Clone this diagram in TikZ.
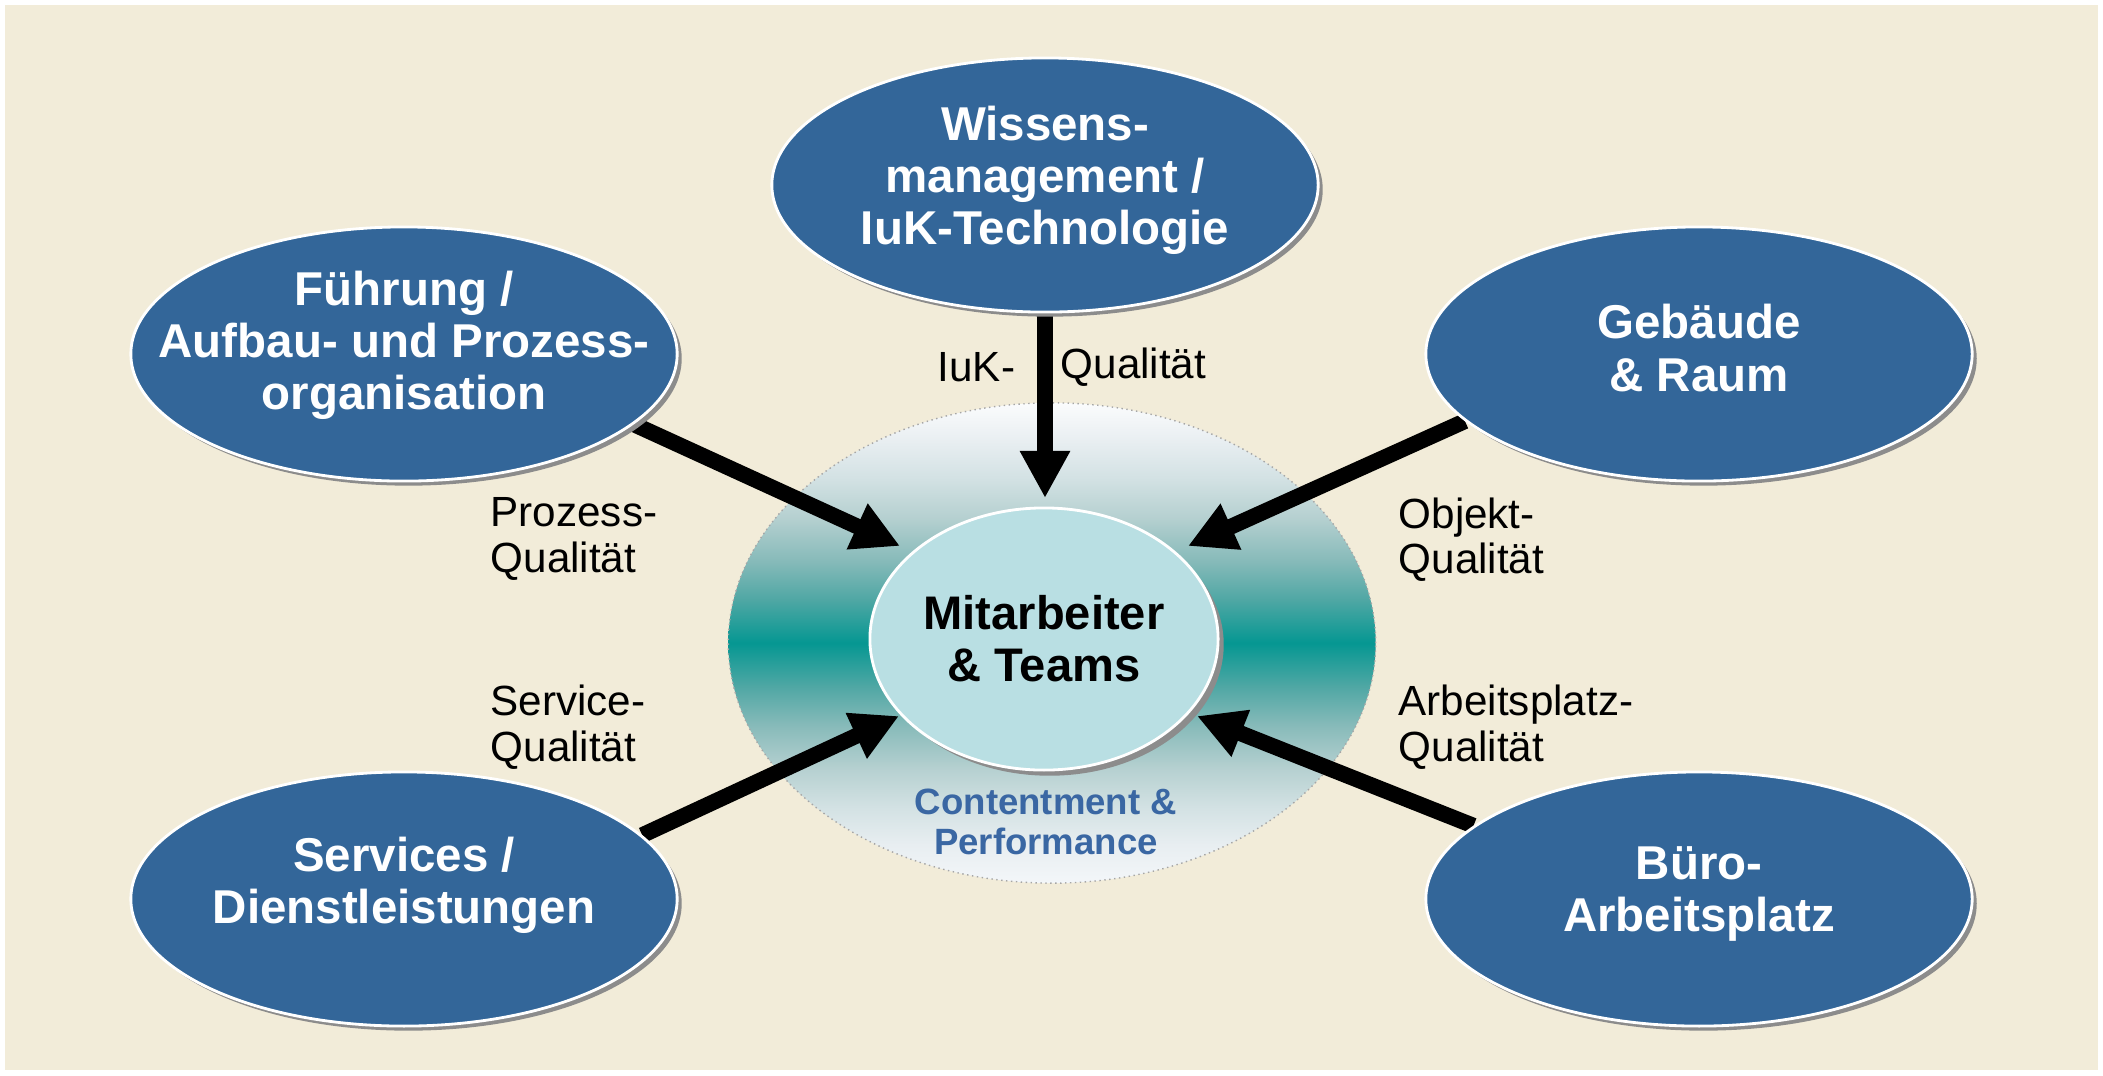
\documentclass[tikz,border=0pt]{standalone}
\usepackage{fontspec}
\setmainfont{Liberation Sans}
\usetikzlibrary{arrows.meta,shapes.geometric,shadows}
\definecolor{bgbeige}{HTML}{F2ECD9}
\definecolor{nodeblue}{HTML}{336699}
\definecolor{innercyan}{HTML}{B9DFE3}
\definecolor{perfblue}{HTML}{3A67A3}
\definecolor{sA}{HTML}{F3F6F9}
\definecolor{sB}{HTML}{E8EEF1}
\definecolor{sC}{HTML}{D2E1E3}
\definecolor{sD}{HTML}{B5D0D0}
\definecolor{sE}{HTML}{86BAB9}
\definecolor{sF}{HTML}{4FA7A4}
\definecolor{sG}{HTML}{059792}
\definecolor{sH}{HTML}{FBFCFD}
\pgfdeclareverticalshading{tealband}{100bp}{color(0bp)=(sA); color(25bp)=(sA); color(29bp)=(sB); color(33bp)=(sC); color(37bp)=(sD); color(41.5bp)=(sE); color(45.5bp)=(sF); color(50bp)=(sG); color(54.5bp)=(sF); color(58.5bp)=(sE); color(63bp)=(sD); color(67bp)=(sC); color(71bp)=(sB); color(75bp)=(sH); color(100bp)=(sH)}
\pgfdeclarelayer{back}
\pgfdeclarelayer{mid}
\pgfsetlayers{back,mid,main}
\begin{document}
\begin{tikzpicture}[x=0.01cm,y=-0.01cm,
  blob/.style={ellipse, fill=nodeblue, draw=white, line width=0.8pt,
    minimum width=5.46cm, minimum height=2.54cm, inner sep=0pt,
    drop shadow={shadow xshift=1.3pt, shadow yshift=-1.3pt, fill=black!45, opacity=1}},
  blobtext/.style={text=white, font=\fontsize{13.5pt}{14.8pt}\selectfont\bfseries, align=center, inner sep=0pt},
  lbl/.style={font=\fontsize{12pt}{12.9pt}\selectfont, align=left, anchor=west, inner sep=0pt},
  bigarrow/.style={line width=4.5pt, -{Triangle[length=13.4pt,width=13.4pt]}},
  halo/.style={ellipse, shade, shading=tealband, draw=gray!70, densely dotted, line width=0.4pt,
    minimum width=6.47cm, minimum height=4.8cm, inner sep=0pt},
  corestyle/.style={ellipse, fill=innercyan, draw=white, line width=0.8pt,
    minimum width=3.48cm, minimum height=2.62cm, inner sep=0pt, align=center,
    font=\fontsize{13.4pt}{14.8pt}\selectfont\bfseries,
    drop shadow={shadow xshift=1.6pt, shadow yshift=-1.6pt, fill=black!45, opacity=1}},
  perfstyle/.style={text=perfblue, font=\fontsize{10.4pt}{11.4pt}\selectfont\bfseries, align=center, inner sep=0pt}
]
\useasboundingbox (0,0) rectangle (2103,1075);

% outer topic ellipses
\node[blob] (wiss) at (1045,185) {};
\node[blob] (fuehr) at (404,354) {};
\node[blob] (geb) at (1699,354) {};
\node[blob] (serv) at (404,899) {};
\node[blob] (buero) at (1699,899) {};

\node[blobtext] (wissT) at (1045,180) {Wissens-\\management /\\IuK-Technologie};
\node[blobtext] (fuehrT) at (404,345) {Führung /\\Aufbau- und Prozess-\\organisation};
\node[blobtext] (gebT) at (1699,348) {Gebäude\\\& Raum};
\node[blobtext] (servT) at (404,885) {Services /\\Dienstleistungen};
\node[blobtext] (bueroT) at (1699,894) {Büro-\\Arbeitsplatz};

% quality labels
\node[lbl] (lIuK) at (937,367) {IuK-};
\node[lbl] (lIuKq) at (1060,367) {Qualität};
\node[lbl] (lProz) at (490,539) {Prozess-\\Qualität};
\node[lbl] (lServ) at (490,727) {Service-\\Qualität};
\node[lbl] (lObj) at (1398,540) {Objekt-\\Qualität};
\node[lbl] (lArb) at (1398,727) {Arbeitsplatz-\\Qualität};

\begin{pgfonlayer}{back}
  \fill[white] (0,0) rectangle (2103,1075);
  \fill[bgbeige] (5,5) rectangle (2098,1070);
  \node[halo] (halo) at (1052,643) {};
  \node[corestyle] (core) at (1044,639) {Mitarbeiter\\\& Teams};
  \node[perfstyle] (perf) at (1046,822) {Contentment \&\\Performance};
\end{pgfonlayer}

\begin{pgfonlayer}{mid}
  \coordinate (tW) at (1045,498);
  \coordinate (tF) at (900,546);
  \coordinate (tG) at (1188,546);
  \coordinate (tS) at (899,716);
  \coordinate (tB) at (1197,716);
  \draw[bigarrow] (wiss.south) -- (tW);
  \draw[bigarrow] (fuehr.-17.5) -- (tF);
  \draw[bigarrow] (geb.196.8) -- (tG);
  \draw[bigarrow] (serv.15.4) -- (tS);
  \draw[bigarrow] (buero.162.8) -- (tB);
\end{pgfonlayer}
\end{tikzpicture}
\end{document}
